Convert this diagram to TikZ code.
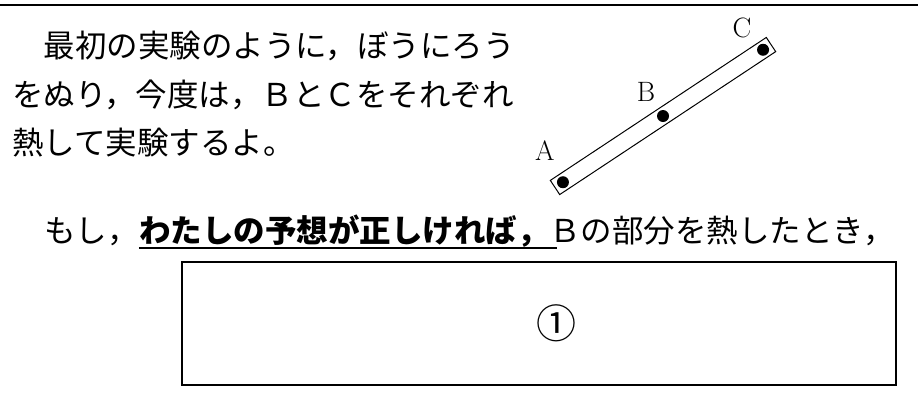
\documentclass[tikz,border=0pt]{standalone}
\usepackage{fontspec}
\newfontfamily\jpfont{Noto Sans CJK JP}
\usetikzlibrary{positioning, calc}

\begin{document}
\begin{tikzpicture}[x=1pt, y=-1pt, node distance=16.5pt,
  speech/.style={font=\jpfont\fontsize{31.5}{31.5}\selectfont, inner sep=0pt,
    text height=27.7pt, text depth=3.8pt},
  textline/.style={speech, text width=510pt, align=left},
  strong/.style={speech, font=\jpfont\fontsize{31.5}{31.5}\selectfont\bfseries},
  rod/.style={draw, line width=1pt, inner sep=0pt, minimum width=259pt, minimum height=17pt},
  dot/.style={circle, fill, inner sep=0pt, minimum size=12pt},
  tag/.style={font=\fontsize{28}{28}\selectfont, inner sep=0pt},
  answer/.style={draw, line width=1.6pt, inner sep=0pt, minimum width=714pt, minimum height=123pt}]
 \useasboundingbox (0,0) rectangle (918,408);
 \draw[line width=2pt] (0,5) -- (918,5);
 % what the child says
 \node[textline, anchor=west] (line1) at (12,46) {　最初の実験のように，ぼうにろう};
 \node[textline] (line2) [below=of line1] {をぬり，今度は，ＢとＣをそれぞれ};
 \node[textline] (line3) [below=of line2] {熱して実験するよ。};
 % the rod with three points
 \node[rod, rotate=33.5] (rod) at (663,116) {};
 \node[dot] (dotA) at ($(rod.center)!120pt!(rod.west)$) {};
 \node[dot] (dotB) at (rod.center) {};
 \node[dot] (dotC) at ($(rod.center)!120pt!(rod.east)$) {};
 \node[tag] (labA) at ([shift={(-18,-32)}]dotA) {A};
 \node[tag] (labB) at ([shift={(-17,-24)}]dotB) {B};
 \node[tag] (labC) at ([shift={(-21,-22)}]dotC) {C};
 % the question
 \node[speech, anchor=west] (moshi) at (44,231) {もし，};
 \node[strong] (guess) [right=0pt of moshi] {わたしの予想が正しければ，};
 \node[speech] (rest) [right=0pt of guess] {Ｂの部分を熱したとき，};
 \draw[line width=2pt] ([yshift=-5pt]guess.base west) -- ([xshift=8pt,yshift=-5pt]guess.base east);
 \node[answer] (blank) at (539,323.5) {};
 \node[font=\jpfont\fontsize{40}{40}\selectfont, inner sep=0pt] (num) at ([xshift=17pt]blank.center) {①};
\end{tikzpicture}
\end{document}
